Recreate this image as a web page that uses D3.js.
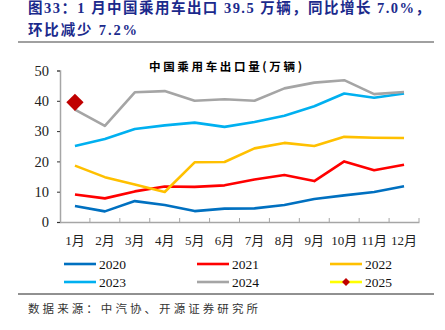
<!DOCTYPE html>
<html><head><meta charset="utf-8">
<script src="https://cdn.jsdelivr.net/npm/d3@7"></script>
<style>
html,body{margin:0;padding:0;background:#fff;}
svg{display:block;}
</style></head>
<body>
<svg id="c" width="445" height="330"></svg>
<script>
const months = ["1月","2月","3月","4月","5月","6月","7月","8月","9月","10月","11月","12月"];
const yTicks = [0,10,20,30,40,50];
const s2020 = [5.3,3.5,6.9,5.6,3.6,4.4,4.5,5.6,7.6,8.8,9.9,11.8];
const s2021 = [9.1,7.8,10.1,11.7,11.6,12.1,14.0,15.5,13.5,20.0,17.1,18.9];
const s2022 = [18.6,14.8,12.4,9.9,19.7,19.8,24.3,26.1,25.1,28.1,27.8,27.7];
const s2023 = [25.1,27.4,30.7,31.9,32.8,31.4,33.0,35.1,38.2,42.4,41.0,42.4];
const s2024 = [37.1,31.7,42.8,43.2,40.0,40.5,40.0,44.1,46.0,46.8,42.2,42.9];
const s2025 = [39.5];
const seriesNames = ["2020","2021","2022","2023","2024","2025"];
const colors = ["#0070C0","#FF0000","#FFC000","#00B0F0","#A5A5A5","#FFFF00"];
const seriesData = [s2020,s2021,s2022,s2023,s2024,s2025];

const svg = d3.select("#c");
const serif = "'Liberation Serif','Times New Roman',serif";
const cjk = "'Noto Sans CJK SC',sans-serif";

// title
const navy = "#1B2A8C";
svg.append("text").attr("x",28).attr("y",13).attr("fill",navy)
  .attr("font-weight","bold").attr("font-size",14.5).attr("font-family",serif+","+cjk)
  .attr("textLength",402).attr("lengthAdjust","spacing")
  .text("图33：1 月中国乘用车出口 39.5 万辆，同比增长 7.0%，");
svg.append("text").attr("x",28).attr("y",35).attr("fill",navy)
  .attr("font-weight","bold").attr("font-size",14.5).attr("font-family",serif+","+cjk)
  .attr("textLength",109).attr("lengthAdjust","spacing")
  .text("环比减少 7.2%");
svg.append("line").attr("x1",18).attr("x2",434).attr("y1",42).attr("y2",42)
  .attr("stroke","#808080").attr("stroke-width",1.5);

const x = d3.scaleBand().domain(months).range([60,419]);
const y = d3.scaleLinear().domain([0,50]).range([222,70.5]);

// chart title
svg.append("text").attr("x",149).attr("y",71)
  .attr("font-weight","bold").attr("font-size",11.5).attr("font-family",cjk)
  .attr("textLength",153).attr("lengthAdjust","spacing").text("中国乘用车出口量(万辆)");

// y axis
const ya = svg.append("g").attr("transform","translate(60,0)")
  .call(d3.axisLeft(y).tickValues(yTicks).tickSize(3).tickPadding(8));
ya.select(".domain").attr("stroke","#A6A6A6").attr("stroke-width",1.5);
ya.selectAll(".tick line").attr("stroke","#333");
ya.selectAll("text").attr("font-family",serif).attr("font-size",14.5).attr("fill","#222");

// x axis
const xa = svg.append("g").attr("transform","translate(0,222)")
  .call(d3.axisBottom(x).tickSize(0).tickPadding(14));
xa.select(".domain").attr("stroke","#A6A6A6").attr("stroke-width",1.5);
xa.selectAll("text").attr("font-family",serif+","+cjk).attr("font-size",13).attr("fill","#222");
svg.append("g").selectAll("line").data(months.slice(1).concat(["end"])).join("line")
  .attr("x1",(d,i)=> i<11 ? x(d) : x.range()[1])
  .attr("x2",(d,i)=> i<11 ? x(d) : x.range()[1])
  .attr("y1",222).attr("y2",218).attr("stroke","#A6A6A6").attr("stroke-width",1);

const line = d3.line().x((d,i)=>x(months[i])+x.bandwidth()/2).y(d=>y(d));
seriesData.slice(0,5).forEach((s,k)=>{
  svg.append("path").datum(s).attr("d",line).attr("fill","none")
    .attr("stroke",colors[k]).attr("stroke-width",2.6).attr("stroke-linejoin","round");
});
// 2025 diamond
svg.append("g").selectAll("path").data(s2025).join("path")
  .attr("transform",(d,i)=>`translate(${x(months[i])+x.bandwidth()/2},${y(d)})`)
  .attr("d",d3.symbol(d3.symbolDiamond2 || d3.symbolSquare2, 190)())
  .attr("fill","#C00000");

// legend
const lx = [64,197,330];
const ly = [264,282];
seriesNames.forEach((n,k)=>{
  const cx = lx[k%3], cy = ly[Math.floor(k/3)];
  svg.append("line").attr("x1",cx).attr("x2",cx+32).attr("y1",cy).attr("y2",cy)
    .attr("stroke",colors[k]).attr("stroke-width",2.6);
  if(n==="2025"){
    svg.append("path").attr("transform",`translate(${cx+16},${cy})`)
      .attr("d",d3.symbol(d3.symbolDiamond2||d3.symbolSquare2,40)()).attr("fill","#C00000");
  }
  svg.append("text").attr("x",cx+35).attr("y",cy+5).attr("font-family",serif)
    .attr("font-size",13.5).attr("fill","#111").text(n);
});

svg.append("line").attr("x1",18).attr("x2",434).attr("y1",294).attr("y2",294)
  .attr("stroke","#222").attr("stroke-width",1);
svg.append("text").attr("x",28).attr("y",313).attr("font-family",cjk)
  .attr("font-size",11.5).attr("fill","#333")
  .attr("textLength",230).attr("lengthAdjust","spacing")
  .text("数据来源：中汽协、开源证券研究所");
</script>
</body></html>
